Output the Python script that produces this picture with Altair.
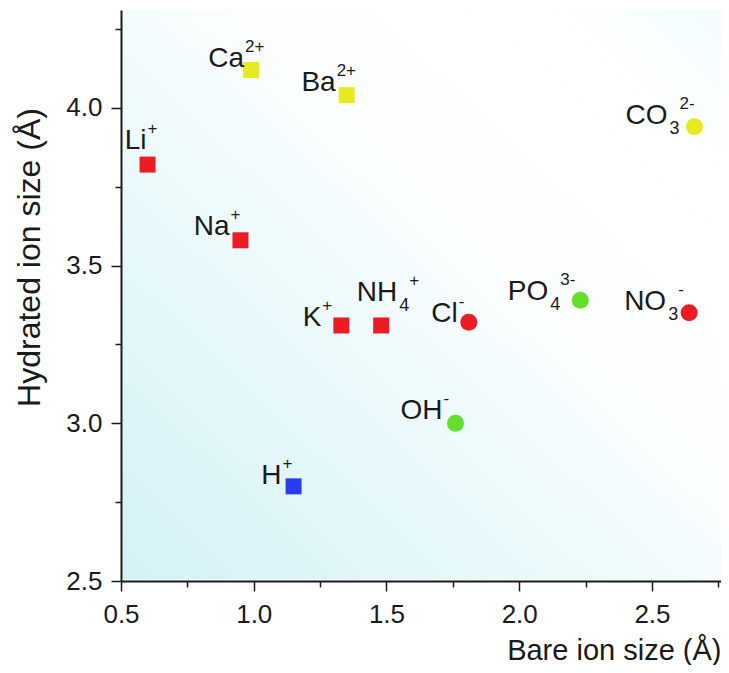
import altair as alt
import pandas as pd

# ---------------- data ----------------
ion_id = ["Li", "Na", "K", "NH4", "H", "Ca", "Ba", "Cl", "OH", "PO4", "NO3", "CO3"]
ion_base = ["Li", "Na", "K", "NH", "H", "Ca", "Ba", "Cl", "OH", "PO", "NO", "CO"]
ion_sub = ["", "", "", "4", "", "", "", "", "", "4", "3", "3"]
ion_sup = ["+", "+", "+", "+", "+", "2+", "2+", "-", "-", "3-", "-", "2-"]
bare_size = [0.60, 0.95, 1.33, 1.48, 1.15, 0.99, 1.35, 1.81, 1.76, 2.23, 2.64, 2.66]
hydrated_size = [3.82, 3.58, 3.31, 3.31, 2.80, 4.12, 4.04, 3.32, 3.00, 3.39, 3.35, 3.94]
ion_kind = ["cation"] * 7 + ["anion"] * 5
ion_group = ["red", "red", "red", "red", "blue", "yellow", "yellow", "red", "green", "green", "red", "yellow"]

x_major = [0.5, 1.0, 1.5, 2.0, 2.5]
x_minor = [0.75, 1.25, 1.75, 2.25, 2.75]
y_major = [2.5, 3.0, 3.5, 4.0]
y_minor = [2.75, 3.25, 3.75, 4.25]

# ---------------- styles ----------------
group_color = {"red": "#ec1c24", "yellow": "#e6ea1e", "green": "#62e02c", "blue": "#2a3cf0"}
# label offsets (pixels) of the base text's right edge / baseline from the marker centre
label_offset = {
    "Li": (-1, -16), "Na": (-11, -5), "K": (-20, 1), "NH4": (16, -24), "H": (-12, -2),
    "Ca": (-7, -3), "Ba": (-11, -4), "Cl": (-11, 0), "OH": (-13, -4), "PO4": (-32, 0),
    "NO3": (-23, -3), "CO3": (-27, -3),
}
FONT = "Liberation Sans"
INK = "#1a1a1a"
W, H = 600, 571

df = pd.DataFrame({
    "ion": ion_id, "base": ion_base, "sub": ion_sub, "sup": ion_sup,
    "bare": bare_size, "hyd": hydrated_size, "kind": ion_kind,
    "color": [group_color[g] for g in ion_group],
})

x_scale = alt.Scale(domain=[0.5, 2.76], nice=False, zero=False)
y_scale = alt.Scale(domain=[2.5, 4.31], nice=False, zero=False)

base = alt.Chart(df)

bg = alt.Chart(pd.DataFrame({"k": [0]})).mark_rect(
    fill=alt.Gradient(
        gradient="linear", x1=0, y1=1, x2=1, y2=0,
        stops=[
            alt.GradientStop(offset=0, color="#d3f2f6"),
            alt.GradientStop(offset=0.3, color="#e6f8fa"),
            alt.GradientStop(offset=0.6, color="#fcfefe"),
            alt.GradientStop(offset=0.85, color="#ffffff"),
            alt.GradientStop(offset=1, color="#f2fcfd"),
        ],
    )
).encode(x=alt.value(1.5), x2=alt.value(W), y=alt.value(0), y2=alt.value(H - 1.5))

x_axis = alt.Axis(
    values=x_major, format=".1f", orient="bottom", grid=False, zindex=1,
    domainColor=INK, domainWidth=2, tickColor=INK, tickWidth=1.5, tickSize=10,
    labelFont=FONT, labelFontSize=26, labelColor=INK, labelPadding=10,
    labelFlush=False, labelOverlap=False,
    title="Bare ion size (Å)", titleFont=FONT, titleFontSize=29, titleFontWeight="normal",
    titleColor=INK, titleAnchor="end", titleAlign="right", titlePadding=9,
)
y_axis = alt.Axis(
    values=y_major, format=".1f", orient="left", grid=False, zindex=1,
    domainColor=INK, domainWidth=2, tickColor=INK, tickWidth=1.5, tickSize=10,
    labelFont=FONT, labelFontSize=26, labelColor=INK, labelPadding=9,
    labelFlush=False, labelOverlap=False,
    title="Hydrated ion size (Å)", titleFont=FONT, titleFontSize=32, titleFontWeight="normal",
    titleColor=INK, titleAngle=270, titleAlign="center", titleBaseline="middle",
    titleX=-92, titleY=247,
)
x_minor_axis = alt.Axis(values=x_minor, orient="bottom", labels=False, domain=False, grid=False,
                        tickColor=INK, tickWidth=1.5, tickSize=6, title=None, zindex=1)
y_minor_axis = alt.Axis(values=y_minor, orient="left", labels=False, domain=False, grid=False,
                        tickColor=INK, tickWidth=1.5, tickSize=6, title=None, zindex=1)

squares = base.transform_filter(alt.datum.kind == "cation").mark_square(
    size=256, filled=True, opacity=1
).encode(
    x=alt.X("bare:Q", scale=x_scale, axis=x_axis),
    y=alt.Y("hyd:Q", scale=y_scale, axis=y_axis),
    color=alt.Color("color:N", scale=None),
)
minor = base.mark_point(opacity=0).encode(
    x=alt.X("bare:Q", scale=x_scale, axis=x_minor_axis),
    y=alt.Y("hyd:Q", scale=y_scale, axis=y_minor_axis),
)
circles = base.transform_filter(alt.datum.kind == "anion").mark_circle(
    size=290, opacity=1
).encode(
    x=alt.X("bare:Q", scale=x_scale, axis=None),
    y=alt.Y("hyd:Q", scale=y_scale, axis=None),
    color=alt.Color("color:N", scale=None),
)

text_layers = []
for ion, sub, sup in zip(ion_id, ion_sub, ion_sup):
    dx, dy = label_offset[ion]
    sel = base.transform_filter(alt.datum.ion == ion)
    enc = dict(x=alt.X("bare:Q", scale=x_scale, axis=None),
               y=alt.Y("hyd:Q", scale=y_scale, axis=None))
    text_layers.append(sel.mark_text(
        align="right", baseline="alphabetic", font=FONT, fontSize=28, color=INK, dx=dx, dy=dy
    ).encode(text="base:N", **enc))
    sup_dx = dx + 1
    if sub:
        text_layers.append(sel.mark_text(
            align="left", baseline="alphabetic", font=FONT, fontSize=18, color=INK,
            dx=dx + 2, dy=dy + 10
        ).encode(text="sub:N", **enc))
        sup_dx = dx + 12
    text_layers.append(sel.mark_text(
        align="left", baseline="alphabetic", font=FONT, fontSize=17, color=INK,
        dx=sup_dx, dy=dy - 15
    ).encode(text="sup:N", **enc))

chart = alt.layer(bg, minor, squares, circles, *text_layers).resolve_axis(
    x="independent", y="independent"
).properties(
    width=W, height=H,
    autosize=alt.AutoSizeParams(type="none"),
    padding={"left": 113, "top": 2, "right": 0, "bottom": 84},
    background="white",
).configure_view(stroke=None)

chart.save("out.html", embed_options={"renderer": "svg", "actions": False})
